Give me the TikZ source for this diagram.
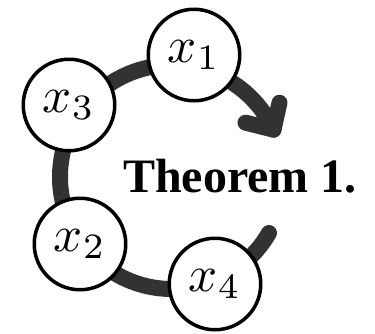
\documentclass[tikz,border=0pt]{standalone}
\usepackage{graphicx}
\usepackage[no-math]{fontspec}
\usetikzlibrary{calc}
\newfontfamily\thmfont{Liberation Serif}
\definecolor{arcgray}{RGB}{50,50,50}
\newcommand{\varlab}[1]{\scalebox{5.1}{$x_{#1}$}}
\begin{document}
\begin{tikzpicture}[x=1pt,y=-1pt,
  var/.style={circle,draw=black,line width=3.5pt,fill=white,minimum size=91.5pt,inner sep=0pt},
  cyc/.style={draw=arcgray,line width=16pt,line cap=round,line join=round}]
\useasboundingbox (0,0) rectangle (375,333);
\coordinate (C) at (172,177);
\draw[cyc] (C) ++(30:112) arc[start angle=30,end angle=335,radius=112] coordinate (tip);
\draw[cyc] ($(tip)+(-28,-7)$) -- (tip) -- ($(tip)+(6,-27)$);
\node[var] (x1) at (194,55) {\varlab{1}};
\node[var] (x3) at (69,105) {\varlab{3}};
\node[var] (x2) at (80,244) {\varlab{2}};
\node[var] (x4) at (215,284) {\varlab{4}};
\node[anchor=base west,inner sep=0pt,font=\thmfont\bfseries\fontsize{48}{56}\selectfont] (thm) at (123,192) {Theorem 1.};
\end{tikzpicture}
\end{document}
